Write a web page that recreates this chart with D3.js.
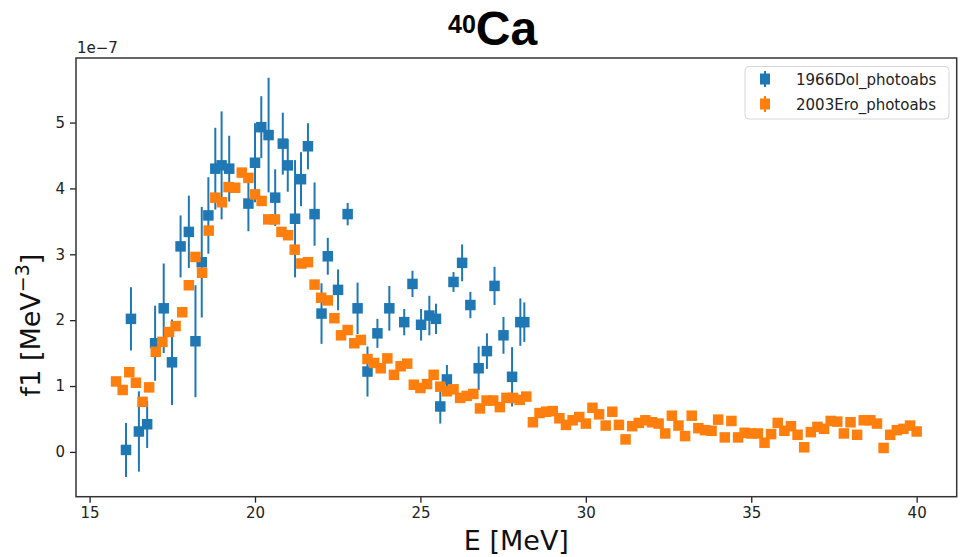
<!DOCTYPE html>
<html>
<head>
<meta charset="utf-8">
<script src="https://cdn.jsdelivr.net/npm/d3@7/dist/d3.min.js"></script>
<style>
  html, body { margin: 0; padding: 0; background: #fff; }
  svg { display: block; }
  .tick text { font-family: "DejaVu Sans", sans-serif; font-size: 15px; fill: #222; }
</style>
</head>
<body>
<svg id="chart" width="960" height="557"></svg>
<script>
// 1966Dol_photoabs: energy (MeV), f1 (units of 1e-7 MeV^-3), uncertainty
const dolE = [16.10, 16.25, 16.49, 16.74, 16.98, 17.24, 17.49, 17.75, 18.00, 18.20,
              18.39, 18.59, 18.80, 18.99, 19.22, 19.80, 20.00, 20.19, 20.41, 20.61,
              20.84, 20.99, 21.21, 21.39, 21.60, 21.80, 22.01, 22.20, 22.51, 22.80,
              23.10, 23.40, 23.70, 24.06, 24.51, 24.76, 25.02, 25.27, 25.47, 25.60,
              25.80, 26.00, 26.26, 26.51, 26.76, 27.01, 27.24, 27.51, 27.77, 28.02, 28.14];
const dolF = [0.03, 2.02, 0.31, 0.42, 1.65, 2.18, 1.36, 3.12, 3.34, 1.68,
              2.88, 3.59, 4.30, 4.35, 4.30, 3.77, 4.39, 4.93, 4.81, 3.86,
              4.68, 4.35, 3.54, 4.14, 4.64, 3.61, 2.10, 2.97, 2.46, 3.61,
              2.18, 1.22, 1.80, 2.18, 1.97, 2.55, 1.93, 2.07, 2.02, 0.69,
              1.10, 2.58, 2.87, 2.23, 1.27, 1.53, 2.52, 1.77, 1.14, 1.97, 1.97];
const dolErr = [0.41, 0.48, 0.61, 0.36, 0.57, 0.68, 0.65, 0.47, 0.55, 0.85,
                0.84, 0.58, 0.62, 0.82, 0.50, 0.42, 0.60, 0.47, 0.87, 0.43,
                0.47, 0.40, 0.89, 0.41, 0.35, 0.48, 0.46, 0.28, 0.31, 0.17,
                0.39, 0.38, 0.22, 0.34, 0.20, 0.20, 0.24, 0.30, 0.23, 0.26,
                0.22, 0.15, 0.28, 0.20, 0.33, 0.27, 0.29, 0.28, 0.45, 0.36, 0.30];

// 2003Ero_photoabs: energy (MeV), f1 (units of 1e-7 MeV^-3)
const eroE = [15.8, 16.0, 16.2, 16.4, 16.6, 16.8, 17.0, 17.2, 17.4, 17.6,
              17.8, 18.0, 18.2, 18.4, 18.6, 18.8, 19.0, 19.2, 19.4, 19.6,
              19.8, 20.0, 20.2, 20.4, 20.6, 20.8, 21.0, 21.2, 21.4, 21.6,
              21.8, 22.0, 22.2, 22.4, 22.6, 22.8, 23.0, 23.2, 23.4, 23.6,
              23.8, 24.0, 24.2, 24.4, 24.6, 24.8, 25.0, 25.2, 25.4, 25.6,
              25.8, 26.0, 26.2, 26.4, 26.6, 26.8, 27.0, 27.2, 27.4, 27.6,
              27.8, 28.0, 28.2, 28.4, 28.6, 28.8, 29.0, 29.2, 29.4, 29.6,
              29.8, 30.0, 30.2, 30.4, 30.6, 30.8, 31.0, 31.2, 31.4, 31.6,
              31.8, 32.0, 32.2, 32.4, 32.6, 32.8, 33.0, 33.2, 33.4, 33.6,
              33.8, 34.0, 34.2, 34.4, 34.6, 34.8, 35.0, 35.2, 35.4, 35.6,
              35.8, 36.0, 36.2, 36.4, 36.6, 36.8, 37.0, 37.2, 37.4, 37.6,
              37.8, 38.0, 38.2, 38.4, 38.6, 38.8, 39.0, 39.2, 39.4, 39.6,
              39.8, 40.0];
const eroF = [1.07, 0.94, 1.21, 1.05, 0.76, 0.98, 1.52, 1.67, 1.82, 1.91,
              2.12, 2.53, 2.96, 2.72, 3.36, 3.86, 3.79, 4.02, 4.01, 4.24,
              4.16, 3.91, 3.81, 3.53, 3.53, 3.34, 3.29, 3.07, 2.86, 2.88,
              2.54, 2.34, 2.30, 2.03, 1.77, 1.85, 1.65, 1.70, 1.41, 1.35,
              1.27, 1.42, 1.17, 1.30, 1.34, 1.02, 0.97, 1.03, 1.17, 0.99,
              0.92, 0.95, 0.82, 0.85, 0.88, 0.66, 0.78, 0.78, 0.68, 0.82,
              0.82, 0.79, 0.84, 0.45, 0.59, 0.61, 0.62, 0.51, 0.41, 0.48,
              0.53, 0.43, 0.67, 0.57, 0.40, 0.61, 0.41, 0.19, 0.39, 0.44,
              0.48, 0.45, 0.43, 0.28, 0.55, 0.40, 0.24, 0.55, 0.36, 0.33,
              0.32, 0.49, 0.22, 0.47, 0.22, 0.29, 0.28, 0.28, 0.14, 0.27,
              0.44, 0.32, 0.39, 0.26, 0.07, 0.30, 0.38, 0.35, 0.47, 0.46,
              0.28, 0.45, 0.26, 0.48, 0.48, 0.43, 0.06, 0.26, 0.33, 0.35,
              0.40, 0.31];

const xTicks = [15, 20, 25, 30, 35, 40];
const yTicks = [0, 1, 2, 3, 4, 5];
const seriesNames = ["1966Dol_photoabs", "2003Ero_photoabs"];
const colors = ["#1f77b4", "#ff7f0e"];

const svg = d3.select("#chart");
const plot = { left: 76, right: 956.7, top: 58, bottom: 496.7 };

const x = d3.scaleLinear().domain([14.589, 41.21]).range([plot.left, plot.right]);
const y = d3.scaleLinear().domain([-0.68, 5.98]).range([plot.bottom, plot.top]);

svg.append("rect").attr("width", 960).attr("height", 557).attr("fill", "#fff");

// axes
const xAxis = svg.append("g")
  .attr("transform", `translate(0,${plot.bottom})`)
  .call(d3.axisBottom(x).tickValues(xTicks).tickSize(6).tickPadding(5).tickFormat(d3.format("d")));
const yAxis = svg.append("g")
  .attr("transform", `translate(${plot.left},0)`)
  .call(d3.axisLeft(y).tickValues(yTicks).tickSize(6).tickPadding(5).tickFormat(d3.format("d")));
[xAxis, yAxis].forEach(g => {
  g.select(".domain").remove();
  g.selectAll(".tick line").attr("stroke", "#222").attr("stroke-width", 1.3);
});

const mk = 10.5;

// 1966Dol error bars and markers
const dol = dolE.map((e, i) => ({ e, f: dolF[i], s: dolErr[i] }));
svg.append("g").selectAll("line").data(dol).join("line")
  .attr("x1", d => x(d.e)).attr("x2", d => x(d.e))
  .attr("y1", d => y(d.f - d.s)).attr("y2", d => y(d.f + d.s))
  .attr("stroke", colors[0]).attr("stroke-width", 2);
svg.append("g").selectAll("rect").data(dol).join("rect")
  .attr("x", d => x(d.e) - mk / 2).attr("y", d => y(d.f) - mk / 2)
  .attr("width", mk).attr("height", mk).attr("fill", colors[0]);

// 2003Ero markers
const ero = eroE.map((e, i) => ({ e, f: eroF[i] }));
svg.append("g").selectAll("rect").data(ero).join("rect")
  .attr("x", d => x(d.e) - mk / 2).attr("y", d => y(d.f) - mk / 2)
  .attr("width", mk).attr("height", mk).attr("fill", colors[1]);

// frame
svg.append("rect")
  .attr("x", plot.left).attr("y", plot.top)
  .attr("width", plot.right - plot.left).attr("height", plot.bottom - plot.top)
  .attr("fill", "none").attr("stroke", "#333").attr("stroke-width", 1.5);

// scale offset text
svg.append("text").attr("x", plot.left + 1).attr("y", 53)
  .attr("font-family", "DejaVu Sans").attr("font-size", 15).attr("fill", "#222")
  .text("1e\u22127");

// axis labels
svg.append("text").attr("x", (plot.left + plot.right) / 2).attr("y", 550)
  .attr("text-anchor", "middle").attr("font-family", "DejaVu Sans").attr("font-size", 27)
  .attr("fill", "#111").text("E [MeV]");

const yl = svg.append("text")
  .attr("transform", "translate(40,325) rotate(-90)")
  .attr("text-anchor", "middle").attr("font-family", "DejaVu Sans").attr("font-size", 27)
  .attr("fill", "#111");
yl.append("tspan").text("f1 [MeV");
yl.append("tspan").attr("dy", -11).attr("font-size", 19).text("\u22123");
yl.append("tspan").attr("dy", 11).text("]");

// title
const title = svg.append("text").attr("x", 448).attr("y", 45)
  .attr("font-family", "Liberation Sans, Arial, sans-serif").attr("font-weight", "bold").attr("fill", "#000");
title.append("tspan").attr("font-size", 25).attr("dy", -12).text("40");
title.append("tspan").attr("font-size", 48).attr("dy", 12).text("Ca");

// legend
const lg = svg.append("g");
lg.append("rect").attr("x", 745).attr("y", 66.5).attr("width", 204).attr("height", 52.5)
  .attr("rx", 4).attr("fill", "#fff").attr("fill-opacity", 0.8)
  .attr("stroke", "#d6d6d6").attr("stroke-width", 1);
seriesNames.forEach((name, i) => {
  const cy = 79 + i * 25;
  lg.append("line").attr("x1", 765).attr("x2", 765).attr("y1", cy - 8).attr("y2", cy + 8)
    .attr("stroke", colors[i]).attr("stroke-width", 2);
  lg.append("rect").attr("x", 765 - 5).attr("y", cy - 5.5).attr("width", 10).attr("height", 11)
    .attr("fill", colors[i]);
  lg.append("text").attr("x", 796).attr("y", cy + 6)
    .attr("font-family", "DejaVu Sans").attr("font-size", 15).attr("fill", "#222")
    .text(name);
});
</script>
</body>
</html>
